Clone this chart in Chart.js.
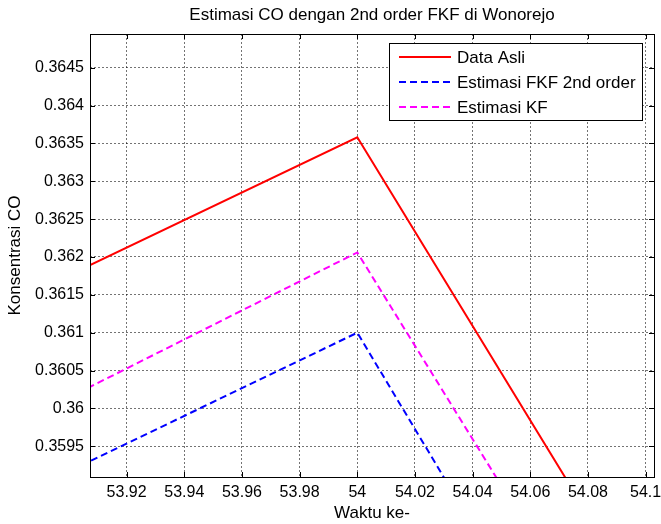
<!DOCTYPE html>
<html>
<head>
<meta charset="utf-8">
<script src="https://cdn.jsdelivr.net/npm/chart.js@4.4.1/dist/chart.umd.min.js"></script>
<style>
  html, body { margin: 0; padding: 0; background: #fff; }
  #wrap { width: 661px; height: 524px; }
</style>
</head>
<body>
<div id="wrap"><canvas id="coChart"></canvas></div>
<script>
// Waktu ke- (time index) and the three CO series
const waktu = [53, 54, 55];
const dataAsli = [0.34537, 0.36358, 0.30128];
const estimasiFKF = [0.34269, 0.36100, 0.29737];
const estimasiKF = [0.34290, 0.36206, 0.30040];

// zoomed view window and tick positions
const xRange = [53.9073, 54.1029];
const yRange = [0.359094, 0.364945];
const xTicks = [53.92, 53.94, 53.96, 53.98, 54, 54.02, 54.04, 54.06, 54.08, 54.1];
const yTicks = [0.3595, 0.36, 0.3605, 0.361, 0.3615, 0.362, 0.3625, 0.363, 0.3635, 0.364, 0.3645];

const judul = 'Estimasi CO dengan 2nd order FKF di Wonorejo';

const FONT = 'Liberation Sans, Arial, Helvetica, sans-serif';
const TEXT_SIZE = 17;
const TICK_SIZE = 16;

function toPoints(ys) {
    return waktu.map((x, i) => ({ x: x, y: ys[i] }));
}

// title centred over the axes, not the whole canvas
const axesTitle = {
    id: 'axesTitle',
    afterDraw(chart) {
        const { ctx, chartArea: a } = chart;
        ctx.save();
        ctx.font = TEXT_SIZE + 'px ' + FONT;
        ctx.fillStyle = '#000';
        ctx.textAlign = 'center';
        ctx.textBaseline = 'middle';
        ctx.fillText(judul, (a.left + a.right) / 2, 15);
        ctx.restore();
    }
};

// box around the axes plus small inward tick marks (top/bottom/left/right)
const axesBox = {
    id: 'axesBox',
    afterDatasetsDraw(chart) {
        const { ctx, chartArea: a, scales } = chart;
        ctx.save();
        ctx.strokeStyle = '#000';
        ctx.lineWidth = 1;
        ctx.beginPath();
        const len = 5;
        scales.x.ticks.forEach(t => {
            const px = Math.round(scales.x.getPixelForValue(t.value)) + 0.5;
            ctx.moveTo(px, a.bottom); ctx.lineTo(px, a.bottom - len);
            ctx.moveTo(px, a.top); ctx.lineTo(px, a.top + len);
        });
        scales.y.ticks.forEach(t => {
            const py = Math.round(scales.y.getPixelForValue(t.value)) + 0.5;
            ctx.moveTo(a.left, py); ctx.lineTo(a.left + len, py);
            ctx.moveTo(a.right, py); ctx.lineTo(a.right - len, py);
        });
        ctx.stroke();
        ctx.strokeRect(Math.round(a.left) + 0.5, Math.round(a.top) + 0.5,
            Math.round(a.right - a.left), Math.round(a.bottom - a.top));
        ctx.restore();
    }
};

// MATLAB-style legend box in the upper right corner
const boxLegend = {
    id: 'boxLegend',
    afterDraw(chart) {
        const { ctx, chartArea: a } = chart;
        const sets = chart.data.datasets;
        ctx.save();
        ctx.font = TEXT_SIZE + 'px ' + FONT;
        const textW = Math.max(...sets.map(d => ctx.measureText(d.label).width));
        const w = 68 + textW + 6;
        const rowH = 25;
        const h = sets.length * rowH + 2;
        const right = Math.round(a.right) - 12;
        const left = right - Math.round(w);
        const top = Math.round(a.top) + 9;
        ctx.fillStyle = '#fff';
        ctx.fillRect(left, top, right - left, h);
        ctx.strokeStyle = '#000';
        ctx.lineWidth = 1;
        ctx.strokeRect(left + 0.5, top + 0.5, right - left, h);
        sets.forEach((d, i) => {
            const cy = top + 14 + i * rowH;
            ctx.beginPath();
            ctx.strokeStyle = d.borderColor;
            ctx.lineWidth = d.borderWidth;
            ctx.setLineDash(d.borderDash || []);
            ctx.moveTo(left + 10, cy);
            ctx.lineTo(left + 62, cy);
            ctx.stroke();
            ctx.setLineDash([]);
            ctx.fillStyle = '#000';
            ctx.textBaseline = 'middle';
            ctx.fillText(d.label, left + 68, cy + 1);
        });
        ctx.restore();
    }
};

const fmt = v => String(Number(v.toFixed(4)));

new Chart(document.getElementById('coChart'), {
    type: 'line',
    data: {
        datasets: [
            {
                label: 'Data Asli',
                data: toPoints(dataAsli),
                borderColor: '#ff0000',
                borderWidth: 2,
                pointRadius: 0,
                tension: 0
            },
            {
                label: 'Estimasi FKF 2nd order',
                data: toPoints(estimasiFKF),
                borderColor: '#0000ff',
                borderWidth: 2,
                borderDash: [7, 4],
                pointRadius: 0,
                tension: 0
            },
            {
                label: 'Estimasi KF',
                data: toPoints(estimasiKF),
                borderColor: '#ff00ff',
                borderWidth: 2,
                borderDash: [7, 4],
                pointRadius: 0,
                tension: 0
            }
        ]
    },
    options: {
        responsive: true,
        maintainAspectRatio: false,
        animation: false,
        layout: { padding: { left: 0, right: 7, top: 34, bottom: 0 } },
        plugins: {
            legend: { display: false },
            tooltip: { enabled: false },
            title: { display: false }
        },
        scales: {
            x: {
                type: 'linear',
                min: xRange[0],
                max: xRange[1],
                afterBuildTicks: s => { s.ticks = xTicks.map(v => ({ value: v })); },
                afterFit: s => { s.height = 47; s.paddingLeft = 0; s.paddingRight = 0; },
                ticks: {
                    color: '#000',
                    font: { family: FONT, size: TICK_SIZE },
                    padding: 6,
                    maxRotation: 0,
                    autoSkip: false,
                    callback: v => fmt(v)
                },
                grid: { color: 'rgba(0,0,0,0.55)', drawTicks: false },
                border: { display: false, dash: [2, 2] },
                title: {
                    display: true,
                    text: 'Waktu ke-',
                    color: '#000',
                    font: { family: FONT, size: TEXT_SIZE },
                    padding: { top: 0, bottom: 0 }
                }
            },
            y: {
                type: 'linear',
                min: yRange[0],
                max: yRange[1],
                afterBuildTicks: s => { s.ticks = yTicks.map(v => ({ value: v })); },
                afterFit: s => { s.width = 90; s.paddingTop = 0; s.paddingBottom = 0; },
                ticks: {
                    color: '#000',
                    font: { family: FONT, size: TICK_SIZE },
                    padding: 6,
                    autoSkip: false,
                    callback: v => fmt(v)
                },
                grid: { color: 'rgba(0,0,0,0.55)', drawTicks: false },
                border: { display: false, dash: [2, 2] },
                title: {
                    display: true,
                    text: 'Konsentrasi CO',
                    color: '#000',
                    font: { family: FONT, size: TEXT_SIZE },
                    padding: { top: 5, bottom: 0 }
                }
            }
        }
    },
    plugins: [axesTitle, axesBox, boxLegend]
});
</script>
</body>
</html>
